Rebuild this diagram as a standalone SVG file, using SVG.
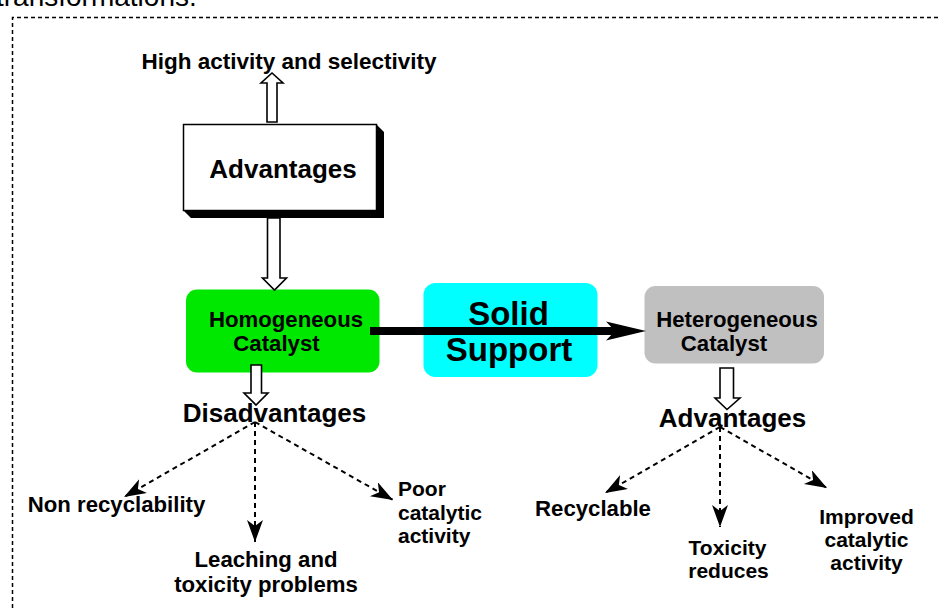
<svg xmlns="http://www.w3.org/2000/svg" width="941" height="608" viewBox="0 0 941 608">
<defs>
<style>
text{font-family:"Liberation Sans",Arial,Helvetica,sans-serif;font-weight:bold;fill:#000}
.lbl{font-size:22.2px}
.ml{font-size:21px}
.big{font-size:26px}
.hollow{fill:#fff;stroke:#000;stroke-width:1.6;stroke-linejoin:miter}
.dash{fill:none;stroke:#000;stroke-width:2;stroke-dasharray:5 4}
</style>
<marker id="ah" markerWidth="24" markerHeight="18" refX="22" refY="8" orient="auto" markerUnits="userSpaceOnUse">
<path d="M0,0 L22,8 L0,16 L6,8 z" fill="#000"/>
</marker>
</defs>
<rect width="941" height="608" fill="#fff"/>
<text x="-4" y="6" style="font-weight:normal;font-size:28px">transformations.</text>
<path d="M12.5,608 V17.5 H941" fill="none" stroke="#000" stroke-width="1.5" stroke-dasharray="4 3"/>

<g id="high-activity"><text x="289" y="69" text-anchor="middle" style="font-size:22.5px">High activity and selectivity</text></g>

<g id="advantages-box">
<polygon points="377,125 384,132 384,218 191,218 184,211 377,211" fill="#000"/>
<rect x="183.5" y="124.5" width="193" height="86" fill="#fff" stroke="#000" stroke-width="1.5"/>
<text x="283" y="178" text-anchor="middle" style="font-size:26px">Advantages</text>
</g>

<g id="homogeneous">
<rect x="186" y="289.5" width="193.5" height="83" rx="11" fill="#00e800"/>
<text x="286" y="327" text-anchor="middle" class="lbl">Homogeneous</text>
<text x="276.5" y="351" text-anchor="middle" class="lbl">Catalyst</text>
</g>

<g id="solid-support">
<rect x="423.5" y="283" width="174" height="94" rx="12" fill="#00ffff"/>
<text x="508.5" y="325" text-anchor="middle" style="font-size:33px">Solid</text>
<text x="509" y="361" text-anchor="middle" style="font-size:33px">Support</text>
</g>

<g id="heterogeneous">
<rect x="644.5" y="286" width="179.5" height="77.5" rx="11" fill="#c0c0c0"/>
<text x="737" y="327" text-anchor="middle" class="lbl">Heterogeneous</text>
<text x="724" y="351" text-anchor="middle" class="lbl">Catalyst</text>
</g>

<g id="disadvantages">
<text x="274.5" y="421.5" text-anchor="middle" class="big">Disadvantages</text>
</g>
<g id="advantages-right">
<text x="732.5" y="426.5" text-anchor="middle" class="big">Advantages</text>
</g>

<g id="non-recyclability"><text x="116.5" y="511.5" text-anchor="middle" class="lbl">Non recyclability</text></g>
<g id="leaching"><text x="266" y="566.5" text-anchor="middle" class="lbl">Leaching and</text><text x="266" y="591.5" text-anchor="middle" class="lbl">toxicity problems</text></g>
<g id="poor"><text x="398" y="496" class="ml">Poor</text><text x="398" y="519.5" class="ml">catalytic</text><text x="398" y="542.5" class="ml">activity</text></g>

<g id="recyclable"><text x="593" y="516" text-anchor="middle" class="lbl">Recyclable</text></g>
<g id="toxicity"><text x="727.5" y="554.5" text-anchor="middle" class="ml">Toxicity</text><text x="728.5" y="577.5" text-anchor="middle" class="ml">reduces</text></g>
<g id="improved"><text x="866.5" y="523.5" text-anchor="middle" class="ml">Improved</text><text x="866.5" y="546.5" text-anchor="middle" class="ml">catalytic</text><text x="866.5" y="570" text-anchor="middle" class="ml">activity</text></g>

<g id="connectors">
<polygon class="hollow" points="267,122 267,83 261,83 272,73 283,83 277,83 277,122"/>
<polygon class="hollow" points="267.5,218 267.5,278 262.5,278 274.5,290 286.5,278 280,278 280,218"/>
<polygon class="hollow" points="251,365 251,393 244,393 256,405 268,393 261.5,393 261.5,365"/>
<polygon class="hollow" points="720,368 720,398 715,398 727,409.5 740,398 733.5,398 733.5,368"/>
<line x1="370" y1="331" x2="616" y2="331" stroke="#000" stroke-width="8"/>
<path d="M646,331 L606,321.5 L615,331 L606,340.5 z" fill="#000"/>
<line class="dash" x1="255" y1="422" x2="124" y2="497" marker-end="url(#ah)"/>
<line class="dash" x1="255" y1="422" x2="255" y2="542" marker-end="url(#ah)"/>
<line class="dash" x1="255" y1="422" x2="393" y2="500" marker-end="url(#ah)"/>
<line class="dash" x1="720" y1="427" x2="605" y2="493" marker-end="url(#ah)"/>
<line class="dash" x1="720" y1="427" x2="720" y2="527" marker-end="url(#ah)"/>
<line class="dash" x1="720" y1="427" x2="827" y2="488" marker-end="url(#ah)"/>
</g>
</svg>
